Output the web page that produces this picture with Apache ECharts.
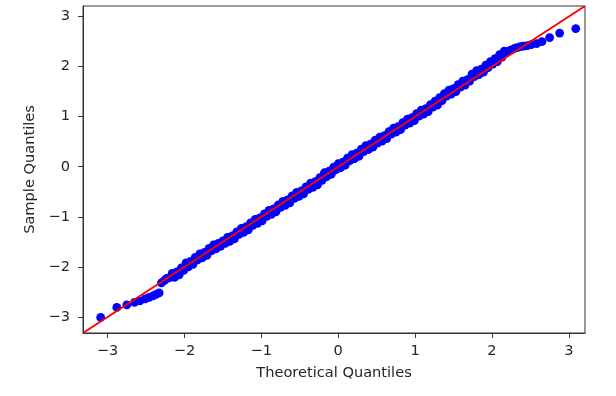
<!DOCTYPE html>
<html>
<head>
<meta charset="utf-8">
<script src="https://cdn.jsdelivr.net/npm/echarts@6/dist/echarts.min.js"></script>
<style>
html,body{margin:0;padding:0;background:#fff;}
#chart{width:616px;height:396px;}
</style>
</head>
<body>
<div id="chart"></div>
<script>
// Theoretical quantiles (x) and sample quantiles (y)
const theoretical = [
  -3.09, -2.88, -2.75, -2.65, -2.58, -2.51, -2.46, -2.41, -2.37, -2.33, -2.30, -2.26, -2.23, -2.20,
  -2.16, -2.13, -2.10, -2.07, -2.04, -2.01, -1.98, -1.95, -1.92, -1.89, -1.86, -1.83, -1.80, -1.77,
  -1.74, -1.71, -1.68, -1.65, -1.62, -1.59, -1.56, -1.53, -1.50, -1.47, -1.44, -1.41, -1.38, -1.35,
  -1.32, -1.29, -1.26, -1.23, -1.20, -1.17, -1.14, -1.11, -1.08, -1.05, -1.02, -0.99, -0.96, -0.93,
  -0.90, -0.87, -0.84, -0.81, -0.78, -0.75, -0.72, -0.69, -0.66, -0.63, -0.60, -0.57, -0.54, -0.51,
  -0.48, -0.45, -0.42, -0.39, -0.36, -0.33, -0.30, -0.27, -0.24, -0.21, -0.18, -0.15, -0.12, -0.09,
  -0.06, -0.03, 0.00, 0.03, 0.06, 0.09, 0.12, 0.15, 0.18, 0.21, 0.24, 0.27, 0.30, 0.33,
  0.36, 0.39, 0.42, 0.45, 0.48, 0.51, 0.54, 0.57, 0.60, 0.63, 0.66, 0.69, 0.72, 0.75,
  0.78, 0.81, 0.84, 0.87, 0.90, 0.93, 0.96, 0.99, 1.02, 1.05, 1.08, 1.11, 1.14, 1.17,
  1.20, 1.23, 1.26, 1.29, 1.32, 1.35, 1.38, 1.41, 1.44, 1.47, 1.50, 1.53, 1.56, 1.59,
  1.62, 1.65, 1.68, 1.71, 1.74, 1.77, 1.80, 1.83, 1.86, 1.89, 1.92, 1.95, 1.98, 2.01,
  2.04, 2.07, 2.10, 2.13, 2.16,
  2.20, 2.23, 2.26, 2.30, 2.33, 2.37, 2.41, 2.46, 2.51, 2.58, 2.65, 2.75, 2.88, 3.09
];
const sample = [
  -3.01, -2.81, -2.76, -2.71, -2.68, -2.64, -2.61, -2.58, -2.55, -2.52, -2.32, -2.27, -2.23, -2.22,
  -2.13, -2.21, -2.10, -2.16, -2.02, -2.07, -1.92, -2.00, -1.89, -1.95, -1.81, -1.86, -1.74, -1.82,
  -1.71, -1.77, -1.63, -1.68, -1.56, -1.64, -1.53, -1.59, -1.48, -1.53, -1.41, -1.49, -1.38, -1.44,
  -1.30, -1.35, -1.23, -1.31, -1.20, -1.26, -1.12, -1.17, -1.05, -1.13, -1.02, -1.08, -0.94, -0.99,
  -0.87, -0.95, -0.84, -0.90, -0.76, -0.81, -0.69, -0.77, -0.66, -0.72, -0.58, -0.63, -0.51, -0.59,
  -0.48, -0.54, -0.40, -0.45, -0.33, -0.41, -0.30, -0.36, -0.22, -0.27, -0.12, -0.20, -0.09, -0.15,
  -0.01, -0.06, 0.06, -0.02, 0.09, 0.03, 0.17, 0.12, 0.24, 0.16, 0.27, 0.21, 0.35, 0.30,
  0.42, 0.34, 0.45, 0.39, 0.53, 0.47, 0.59, 0.51, 0.62, 0.56, 0.70, 0.65, 0.77, 0.69,
  0.80, 0.74, 0.88, 0.83, 0.95, 0.87, 0.98, 0.92, 1.06, 1.01, 1.13, 1.05, 1.16, 1.10,
  1.24, 1.19, 1.31, 1.23, 1.38, 1.32, 1.46, 1.41, 1.53, 1.45, 1.56, 1.50, 1.64, 1.59,
  1.71, 1.63, 1.74, 1.71, 1.85, 1.80, 1.92, 1.84, 1.95, 1.89, 2.03, 1.98, 2.10, 2.05,
  2.16, 2.10, 2.24, 2.19, 2.31,
  2.29, 2.32, 2.34, 2.37, 2.38, 2.40, 2.41, 2.42, 2.44, 2.46, 2.50, 2.58, 2.67, 2.76
];
const axisLimits = [-3.32, 3.21];
const tickValues = [-3, -2, -1, 0, 1, 2, 3];
const xName = 'Theoretical Quantiles';
const yName = 'Sample Quantiles';

const points = theoretical.map((x, i) => [x, sample[i]]);
const refLine = axisLimits.map(v => [v, v]);

const font = 'DejaVu Sans';
const fs = 14.6;
const fmt = v => String(v).replace('-', '\u2212');

function axisCommon(name, isX) {
  return {
    type: 'value',
    min: axisLimits[0],
    max: axisLimits[1],
    name: name,
    nameLocation: 'middle',
    nameGap: isX ? 33 : 39,
    nameTextStyle: { fontFamily: font, fontSize: fs, color: '#262626' },
    axisLine: { show: true, onZero: false, lineStyle: { color: '#333', width: 1 } },
    axisTick: { show: true, length: 5, customValues: tickValues, lineStyle: { color: '#333', width: 1 } },
    axisLabel: { customValues: tickValues, formatter: fmt, margin: isX ? 11 : 13, fontFamily: font, fontSize: fs, color: '#262626' },
    splitLine: { show: false }
  };
}

const chart = echarts.init(document.getElementById('chart'), null, { renderer: 'canvas' });
chart.setOption({
  animation: false,
  backgroundColor: '#ffffff',
  grid: { left: 83, top: 6, right: 31, bottom: 63, show: true, borderColor: '#333', borderWidth: 1, backgroundColor: 'transparent' },
  xAxis: axisCommon(xName, true),
  yAxis: axisCommon(yName, false),
  series: [
    {
      type: 'scatter',
      data: points,
      symbol: 'circle',
      symbolSize: 8.8,
      itemStyle: { color: '#0000ff', opacity: 1 },
      silent: true
    },
    {
      type: 'line',
      data: refLine,
      symbol: 'none',
      lineStyle: { color: '#ff0000', width: 2 },
      silent: true,
      z: 3
    }
  ]
});
</script>
</body>
</html>
